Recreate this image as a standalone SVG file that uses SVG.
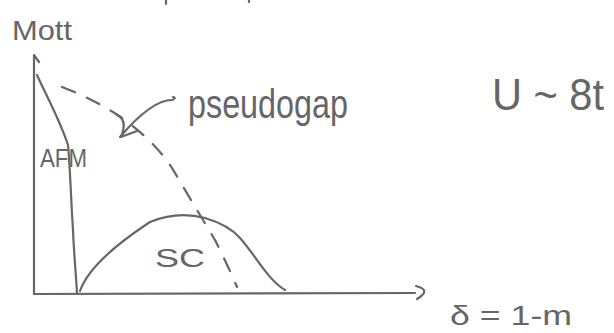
<svg xmlns="http://www.w3.org/2000/svg" width="614" height="333" viewBox="0 0 614 333">
<style>
.ink{fill:none;stroke:#666;stroke-width:2.2;stroke-linecap:round;stroke-linejoin:round}
.dash{stroke-dasharray:14 13}
.lbl{fill:#666;font-family:"Liberation Sans","DejaVu Sans",sans-serif}
</style>
<rect width="614" height="333" fill="#fff"/>
<g id="edge-marks">
<path class="ink" d="M166,0 L166,4 M249,0 L249,2"/>
</g>
<g id="axes">
<path class="ink" d="M34,294 L34,55 L39,62"/>
<path class="ink" d="M34,294 L415,293"/>
<path class="ink" d="M416,286 Q432,290 417,299"/>
</g>
<g id="afm">
<path class="ink" d="M37,75 C46,95 60,120 68,145 C70,165 71,200 73,230 C74,255 76,275 77,293"/>
<text class="lbl" x="40" y="167" font-size="26" textLength="47" lengthAdjust="spacingAndGlyphs">AFM</text>
</g>
<g id="sc">
<path class="ink" d="M80,291 C88,268 115,245 150,222 C172,213 190,214 205,218 C222,223 233,230 240,238 C256,256 268,280 285,290"/>
<text class="lbl" x="155" y="267" font-size="26" textLength="50" lengthAdjust="spacingAndGlyphs">SC</text>
</g>
<g id="pseudogap">
<path class="ink dash" d="M62,87 C85,96 105,106 125,120 C145,135 160,150 172,168 C185,190 200,215 215,240 C225,260 232,275 237,287"/>
<text class="lbl" x="188" y="118" font-size="40" textLength="160" lengthAdjust="spacingAndGlyphs">pseudogap</text>
</g>
<g id="connectors">
<path class="ink" d="M173,97 Q177,98 172,100 C160,100 143,110 120,137"/>
<path class="ink" d="M117,115 Q128,120 121,137 L137,131"/>
</g>
<g id="mott">
<text class="lbl" x="12" y="40" font-size="28" textLength="60" lengthAdjust="spacingAndGlyphs">Mott</text>
</g>
<g id="u-label">
<text class="lbl" x="492" y="110" font-size="44" textLength="112" lengthAdjust="spacingAndGlyphs">U ~ 8t</text>
</g>
<g id="delta-label">
<text class="lbl" x="450" y="325" font-size="28" textLength="122" lengthAdjust="spacingAndGlyphs">δ = 1-m</text>
</g>
</svg>
